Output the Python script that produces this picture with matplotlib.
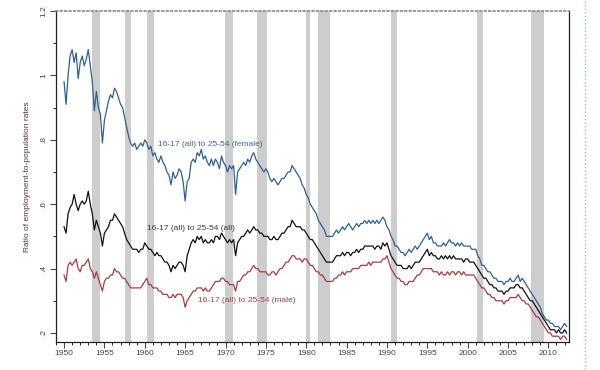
import numpy as np
import matplotlib
matplotlib.use("Agg")
import matplotlib.pyplot as plt
from matplotlib.lines import Line2D
from matplotlib.ticker import MultipleLocator, FuncFormatter

plt.rcParams["font.family"] = ["Liberation Sans", "DejaVu Sans"]

# quarterly observations, 1950Q1 .. 2012Q2
years = np.arange(1950, 2012.5, 0.25)

female = [
    0.98, 0.91, 1.00, 1.06,  1.08, 1.04, 1.07, 0.99,  1.04, 1.06, 1.03, 1.05,
    1.08, 1.03, 0.98, 0.89,  0.95, 0.90, 0.88, 0.79,  0.86, 0.89, 0.92, 0.94,
    0.93, 0.96, 0.95, 0.93,  0.91, 0.90, 0.87, 0.84,  0.81, 0.79, 0.78, 0.79,
    0.77, 0.78, 0.79, 0.78,  0.80, 0.79, 0.77, 0.78,  0.75, 0.76, 0.74, 0.73,
    0.75, 0.73, 0.72, 0.70,  0.69, 0.66, 0.70, 0.68,  0.69, 0.71, 0.70, 0.67,
    0.61, 0.67, 0.68, 0.73,  0.74, 0.73, 0.76, 0.75,  0.77, 0.74, 0.75, 0.73,
    0.72, 0.74, 0.72, 0.74,  0.73, 0.71, 0.75, 0.73,  0.72, 0.70, 0.72, 0.71,
    0.72, 0.63, 0.70, 0.71,  0.72, 0.73, 0.72, 0.74,  0.73, 0.75, 0.76, 0.74,
    0.73, 0.72, 0.71, 0.70,  0.71, 0.70, 0.68, 0.67,  0.68, 0.67, 0.66, 0.67,
    0.68, 0.68, 0.69, 0.70,  0.70, 0.72, 0.71, 0.70,  0.69, 0.68, 0.66, 0.65,
    0.63, 0.62, 0.60, 0.59,  0.58, 0.57, 0.55, 0.54,  0.53, 0.52, 0.50, 0.50,
    0.50, 0.50, 0.51, 0.52,  0.51, 0.52, 0.53, 0.52,  0.53, 0.54, 0.53, 0.52,
    0.53, 0.54, 0.53, 0.54,  0.54, 0.55, 0.54, 0.55,  0.54, 0.55, 0.54, 0.55,
    0.54, 0.55, 0.56, 0.55,  0.53, 0.52, 0.50, 0.49,  0.47, 0.47, 0.46, 0.45,
    0.45, 0.44, 0.45, 0.46,  0.45, 0.46, 0.47, 0.46,  0.47, 0.48, 0.49, 0.50,
    0.51, 0.49, 0.50, 0.48,  0.48, 0.47, 0.47, 0.47,  0.48, 0.47, 0.48, 0.49,
    0.48, 0.48, 0.47, 0.48,  0.47, 0.48, 0.47, 0.47,  0.47, 0.47, 0.46, 0.46,
    0.46, 0.44, 0.43, 0.41,  0.41, 0.40, 0.39, 0.39,  0.38, 0.37, 0.37, 0.36,
    0.36, 0.36, 0.35, 0.36,  0.36, 0.37, 0.36, 0.36,  0.37, 0.38, 0.36, 0.37,
    0.36, 0.35, 0.34, 0.33,  0.32, 0.31, 0.30, 0.29,  0.28, 0.26, 0.25, 0.24,
    0.24, 0.23, 0.23, 0.22,  0.22, 0.22, 0.21, 0.22,  0.23, 0.22,
]

all_ = [
    0.53, 0.51, 0.57, 0.59,  0.60, 0.63, 0.60, 0.58,  0.60, 0.61, 0.60, 0.61,
    0.64, 0.60, 0.57, 0.52,  0.55, 0.53, 0.51, 0.47,  0.51, 0.52, 0.53, 0.55,
    0.55, 0.57, 0.56, 0.55,  0.54, 0.53, 0.51, 0.49,  0.48, 0.47, 0.46, 0.46,
    0.46, 0.45, 0.46, 0.46,  0.48, 0.47, 0.46, 0.46,  0.45, 0.44, 0.45, 0.44,
    0.44, 0.43, 0.42, 0.42,  0.41, 0.39, 0.41, 0.40,  0.41, 0.42, 0.42, 0.41,
    0.39, 0.44, 0.46, 0.48,  0.49, 0.48, 0.50, 0.49,  0.50, 0.48, 0.49, 0.48,
    0.48, 0.49, 0.48, 0.50,  0.50, 0.49, 0.51, 0.50,  0.49, 0.48, 0.49, 0.48,
    0.49, 0.44, 0.48, 0.49,  0.50, 0.50, 0.51, 0.52,  0.51, 0.52, 0.53, 0.52,
    0.52, 0.51, 0.51, 0.50,  0.50, 0.50, 0.49, 0.49,  0.50, 0.49, 0.49, 0.50,
    0.51, 0.51, 0.52, 0.53,  0.53, 0.55, 0.54, 0.53,  0.53, 0.53, 0.52, 0.52,
    0.51, 0.50, 0.49, 0.49,  0.48, 0.47, 0.46, 0.45,  0.44, 0.43, 0.42, 0.42,
    0.42, 0.42, 0.43, 0.44,  0.44, 0.44, 0.45, 0.44,  0.45, 0.45, 0.44, 0.45,
    0.45, 0.46, 0.45, 0.46,  0.46, 0.47, 0.47, 0.47,  0.47, 0.47, 0.46, 0.47,
    0.47, 0.46, 0.48, 0.47,  0.48, 0.46, 0.44, 0.43,  0.42, 0.41, 0.41, 0.41,
    0.40, 0.40, 0.40, 0.41,  0.40, 0.41, 0.42, 0.42,  0.42, 0.43, 0.44, 0.45,
    0.46, 0.44, 0.45, 0.44,  0.44, 0.43, 0.43, 0.44,  0.43, 0.44, 0.43, 0.44,
    0.43, 0.44, 0.43, 0.43,  0.43, 0.43, 0.42, 0.43,  0.43, 0.42, 0.42, 0.42,
    0.41, 0.40, 0.39, 0.38,  0.37, 0.37, 0.36, 0.35,  0.35, 0.34, 0.34, 0.33,
    0.33, 0.33, 0.32, 0.33,  0.33, 0.34, 0.34, 0.34,  0.35, 0.35, 0.34, 0.34,
    0.33, 0.32, 0.31, 0.30,  0.30, 0.29, 0.28, 0.27,  0.26, 0.25, 0.24, 0.23,
    0.22, 0.21, 0.21, 0.21,  0.20, 0.21, 0.20, 0.20,  0.21, 0.20,
]

male = [
    0.38, 0.36, 0.41, 0.42,  0.41, 0.42, 0.43, 0.40,  0.39, 0.41, 0.41, 0.42,
    0.43, 0.40, 0.39, 0.37,  0.39, 0.37, 0.35, 0.33,  0.36, 0.37, 0.37, 0.38,
    0.38, 0.40, 0.39, 0.39,  0.38, 0.37, 0.37, 0.36,  0.35, 0.34, 0.34, 0.34,
    0.34, 0.34, 0.34, 0.35,  0.36, 0.37, 0.35, 0.35,  0.34, 0.34, 0.34, 0.33,
    0.33, 0.32, 0.32, 0.32,  0.31, 0.31, 0.32, 0.31,  0.32, 0.32, 0.32, 0.31,
    0.28, 0.30, 0.31, 0.32,  0.33, 0.33, 0.34, 0.34,  0.34, 0.33, 0.34, 0.33,
    0.33, 0.34, 0.35, 0.36,  0.36, 0.36, 0.37, 0.37,  0.36, 0.36, 0.35, 0.35,
    0.35, 0.33, 0.36, 0.36,  0.37, 0.38, 0.38, 0.39,  0.39, 0.40, 0.41, 0.40,
    0.40, 0.39, 0.39, 0.39,  0.39, 0.38, 0.38, 0.39,  0.39, 0.38, 0.39, 0.40,
    0.40, 0.41, 0.42, 0.42,  0.43, 0.44, 0.44, 0.43,  0.43, 0.43, 0.42, 0.43,
    0.43, 0.42, 0.41, 0.41,  0.40, 0.39, 0.39, 0.38,  0.38, 0.37, 0.36, 0.36,
    0.36, 0.36, 0.37, 0.37,  0.38, 0.38, 0.39, 0.38,  0.39, 0.39, 0.39, 0.40,
    0.40, 0.40, 0.40, 0.41,  0.41, 0.41, 0.41, 0.42,  0.41, 0.42, 0.42, 0.42,
    0.42, 0.42, 0.43, 0.43,  0.44, 0.42, 0.40, 0.39,  0.38, 0.37, 0.37, 0.36,
    0.36, 0.35, 0.35, 0.36,  0.36, 0.36, 0.37, 0.38,  0.38, 0.39, 0.40, 0.40,
    0.40, 0.40, 0.40, 0.39,  0.39, 0.39, 0.38, 0.39,  0.38, 0.38, 0.39, 0.38,
    0.39, 0.39, 0.38, 0.39,  0.39, 0.38, 0.39, 0.38,  0.38, 0.38, 0.38, 0.38,
    0.37, 0.36, 0.35, 0.34,  0.34, 0.33, 0.32, 0.32,  0.31, 0.31, 0.30, 0.30,
    0.30, 0.30, 0.29, 0.30,  0.30, 0.31, 0.31, 0.31,  0.31, 0.32, 0.31, 0.30,
    0.30, 0.29, 0.29, 0.28,  0.27, 0.26, 0.25, 0.25,  0.24, 0.23, 0.22, 0.21,
    0.20, 0.20, 0.19, 0.19,  0.19, 0.19, 0.18, 0.19,  0.19, 0.18,
]

# NBER recessions (start, end)
recessions = [
    (1953.5, 1954.4), (1957.6, 1958.3), (1960.3, 1961.1), (1969.9, 1970.9),
    (1973.9, 1975.2), (1980.0, 1980.5), (1981.5, 1982.9), (1990.5, 1991.2),
    (2001.2, 2001.9), (2007.9, 2009.5),
]

series_labels = [
    "16-17 (all) to 25-54 (female)",
    "16-17 (all) to 25-54 (all)",
    "16-17 (all) to 25-54 (male)",
]

fig = plt.figure(figsize=(6, 3.7), dpi=100)
ax = fig.add_axes([0.0933, 0.0757, 0.8557, 0.8946])

for start, end in recessions:
    ax.axvspan(start, end, color="#cdcdcd", lw=0, zorder=0)

ax.plot(years, female, color="#2f6090", lw=0.9, zorder=3)
ax.plot(years, all_, color="#111111", lw=0.9, zorder=3)
ax.plot(years, male, color="#a63c3c", lw=0.9, zorder=3)

ax.text(1961.6, 0.785, series_labels[0], color="#3a6694", fontsize=6, va="center")
ax.text(1960.3, 0.525, series_labels[1], color="#3a3a3a", fontsize=6, va="center")
ax.text(1966.6, 0.301, series_labels[2], color="#a04444", fontsize=6, va="center")

ax.set_xlim(1949.0, 2012.6)
ax.set_ylim(0.172, 1.2)

ax.xaxis.set_major_locator(MultipleLocator(5))
ax.xaxis.set_minor_locator(MultipleLocator(1))
ax.yaxis.set_major_locator(MultipleLocator(0.2))
ax.yaxis.set_minor_locator(MultipleLocator(0.1))


def fmt_y(v, pos):
    s = f"{v:.1f}"
    if s.endswith(".0"):
        s = s[:-2]
    if s.startswith("0."):
        s = s[1:]
    return s


ax.yaxis.set_major_formatter(FuncFormatter(fmt_y))
ax.tick_params(axis="both", which="major", direction="out", length=4,
               width=0.8, labelsize=6, colors="#444455", pad=2)
ax.tick_params(axis="both", which="minor", direction="out", length=2, width=0.6)
for lab in ax.get_yticklabels():
    lab.set_rotation(90)
    lab.set_va("center")

ax.set_ylabel("Ratio of employment-to-population rates", fontsize=6,
              color="#553333", labelpad=7)

ax.spines["top"].set_linestyle(":")
ax.spines["top"].set_color("#888888")
ax.spines["top"].set_linewidth(1.2)
for side in ["left", "bottom", "right"]:
    ax.spines[side].set_color("#222222")
    ax.spines[side].set_linewidth(0.9)

fig.add_artist(Line2D([0.975, 0.975], [0.0, 1.0], transform=fig.transFigure,
                      color="#7cc8d8", lw=1, linestyle=":"))

fig.savefig("out.png", dpi=100)
